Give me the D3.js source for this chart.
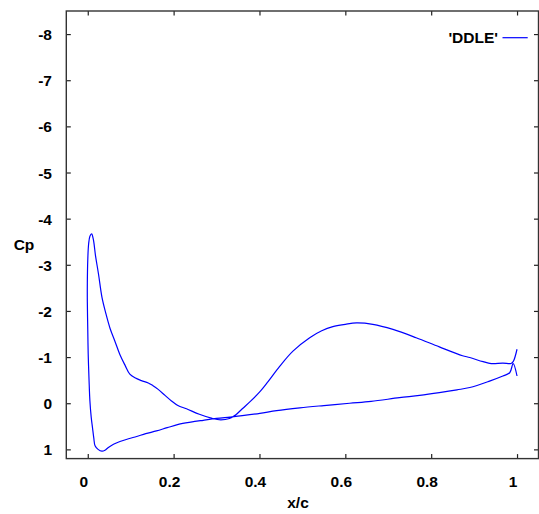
<!DOCTYPE html>
<html>
<head>
<meta charset="utf-8">
<script src="https://cdn.jsdelivr.net/npm/d3@7"></script>
<style>
  body { margin: 0; background: #fff; }
  svg { display: block; }
  text { font-family: "Liberation Sans", Arial, sans-serif; font-weight: bold; fill: #000; }
</style>
</head>
<body>
<div id="chart"></div>
<script>
// ---- data (x/c, Cp) ----
const upperX  = [0.002, 0.005, 0.009, 0.013, 0.018, 0.025, 0.033, 0.042, 0.052, 0.063, 0.075, 0.087, 0.098, 0.110, 0.125, 0.141, 0.152, 0.164, 0.180, 0.195, 0.210, 0.230, 0.260, 0.290, 0.310, 0.330, 0.345, 0.360, 0.380, 0.400, 0.420, 0.447, 0.478, 0.517, 0.545, 0.571, 0.600, 0.626, 0.664, 0.711, 0.765, 0.819, 0.873, 0.890, 0.921, 0.940, 0.967, 0.986, 0.991, 1.000];
const upperCp = [-3.45, -3.62, -3.67, -3.55, -3.20, -2.80, -2.30, -1.95, -1.62, -1.35, -1.05, -0.82, -0.63, -0.55, -0.49, -0.44, -0.38, -0.30, -0.17, -0.05, 0.05, 0.12, 0.24, 0.33, 0.36, 0.33, 0.25, 0.12, -0.05, -0.24, -0.47, -0.80, -1.13, -1.42, -1.57, -1.66, -1.71, -1.74, -1.71, -1.60, -1.42, -1.22, -1.03, -0.99, -0.90, -0.86, -0.87, -0.86, -0.90, -1.17];

const lowerX  = [0.002, 0.000, -0.001, -0.001, 0.000, 0.001, 0.003, 0.005, 0.008, 0.011, 0.014, 0.017, 0.024, 0.033, 0.040, 0.048, 0.060, 0.075, 0.095, 0.114, 0.135, 0.160, 0.185, 0.211, 0.240, 0.269, 0.300, 0.331, 0.360, 0.401, 0.440, 0.494, 0.550, 0.610, 0.660, 0.726, 0.773, 0.819, 0.860, 0.890, 0.936, 0.967, 0.983, 0.991, 1.000];
const lowerCp = [-3.45, -3.10, -2.60, -2.20, -1.60, -1.07, -0.50, -0.05, 0.30, 0.53, 0.75, 0.92, 1.00, 1.04, 1.02, 0.96, 0.89, 0.83, 0.77, 0.72, 0.66, 0.60, 0.53, 0.46, 0.41, 0.37, 0.33, 0.30, 0.27, 0.22, 0.16, 0.10, 0.05, 0.00, -0.04, -0.12, -0.17, -0.23, -0.29, -0.34, -0.48, -0.59, -0.66, -0.86, -0.59];

const xTicks = [0, 0.2, 0.4, 0.6, 0.8, 1];
const xTickLabels = ["0", "0.2", "0.4", "0.6", "0.8", "1"];
const yTicks = [-8, -7, -6, -5, -4, -3, -2, -1, 0, 1];
const yTickLabels = ["-8", "-7", "-6", "-5", "-4", "-3", "-2", "-1", "0", "1"];
const seriesName = "'DDLE'";

// ---- layout ----
const W = 539, H = 514;
const mLeft = 66.3, mRight = 538.5, mTop = 11, mBottom = 458.6;

const svg = d3.select("#chart").append("svg").attr("width", W).attr("height", H);

const x = d3.scaleLinear().domain([-0.05, 1.05]).range([mLeft, mRight]);
const y = d3.scaleLinear().domain([-8.5, 1.2]).range([mTop, mBottom]);

// ticks (inward, mirrored)
const tickLen = 4.5;
const axisColor = "#222";
const gBottom = svg.append("g").attr("transform", `translate(0,${mBottom})`)
  .call(d3.axisBottom(x).tickValues(xTicks).tickSize(-tickLen).tickFormat(""));
const gTop = svg.append("g").attr("transform", `translate(0,${mTop})`)
  .call(d3.axisTop(x).tickValues(xTicks).tickSize(-tickLen).tickFormat(""));
const gLeft = svg.append("g").attr("transform", `translate(${mLeft},0)`)
  .call(d3.axisLeft(y).tickValues(yTicks).tickSize(-tickLen).tickFormat(""));
const gRight = svg.append("g").attr("transform", `translate(${mRight},0)`)
  .call(d3.axisRight(y).tickValues(yTicks).tickSize(-tickLen).tickFormat(""));
[gBottom, gTop, gLeft, gRight].forEach(g => {
  g.select(".domain").remove();
  g.selectAll(".tick line").attr("stroke", axisColor).attr("stroke-width", 1.2);
});

// frame
svg.append("rect")
  .attr("x", mLeft).attr("y", mTop)
  .attr("width", mRight - mLeft).attr("height", mBottom - mTop)
  .attr("fill", "none").attr("stroke", "#333").attr("stroke-width", 1.4);

// tick labels
svg.append("g").selectAll("text").data(xTicks).join("text")
  .attr("x", d => x(d) - 4)
  .attr("y", 487)
  .attr("text-anchor", "middle")
  .style("font-size", "15.5px")
  .text((d, i) => xTickLabels[i]);

svg.append("g").selectAll("text").data(yTicks).join("text")
  .attr("x", 52)
  .attr("y", d => y(d) + 6)
  .attr("text-anchor", "end")
  .style("font-size", "15.5px")
  .text((d, i) => yTickLabels[i]);

// axis titles
svg.append("text").attr("x", 298).attr("y", 508).attr("text-anchor", "middle")
  .style("font-size", "15.5px").text("x/c");
svg.append("text").attr("x", 24).attr("y", 250).attr("text-anchor", "middle")
  .style("font-size", "15.5px").text("Cp");

// curve: upper from TE to LE, then lower from LE to TE
const pts = [];
for (let i = upperX.length - 1; i >= 0; i--) pts.push([upperX[i], upperCp[i]]);
for (let i = 1; i < lowerX.length; i++) pts.push([lowerX[i], lowerCp[i]]);

const line = d3.line().x(d => x(d[0])).y(d => y(d[1])).curve(d3.curveCatmullRom.alpha(0.5));
svg.append("path").datum(pts)
  .attr("d", line)
  .attr("fill", "none")
  .attr("stroke", "#0000ff")
  .attr("stroke-width", 1.2)
  .attr("stroke-linejoin", "round");

// legend
svg.append("text").attr("x", 498).attr("y", 43).attr("text-anchor", "end")
  .style("font-size", "15.5px").text(seriesName);
svg.append("line").attr("x1", 502.5).attr("x2", 527.7).attr("y1", 37.7).attr("y2", 37.7)
  .attr("stroke", "#0000ff").attr("stroke-width", 1.2);
</script>
</body>
</html>
